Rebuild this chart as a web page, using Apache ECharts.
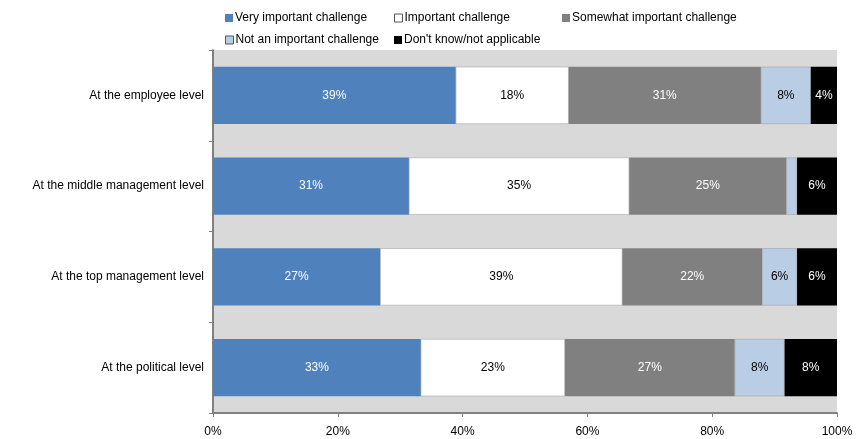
<!DOCTYPE html>
<html><head><meta charset="utf-8">
<script src="https://cdn.jsdelivr.net/npm/echarts@6/dist/echarts.min.js"></script>
<style>html,body{margin:0;padding:0;background:#fff}#c{width:856px;height:439px}</style>
</head><body><div id="c"></div>
<script>
const categories = ['At the employee level','At the middle management level','At the top management level','At the political level'];
const seriesNames = ['Very important challenge','Important challenge','Somewhat important challenge','Not an important challenge',"Don't know/not applicable"];
const veryImportant = [38.9, 31.4, 26.8, 33.3];
const important = [18.1, 35.3, 38.8, 23.1];
const somewhat = [30.8, 25.2, 22.4, 27.2];
const notImportant = [8.0, 1.7, 5.6, 8.0];
const dontKnow = [4.2, 6.4, 6.4, 8.4];
const xTicks = [0, 20, 40, 60, 80, 100];

const colors = ['#4f81bd','#ffffff','#808080','#b9cde5','#000000'];
const labelColors = ['#ffffff','#000000','#ffffff','#000000','#ffffff'];
const values = [veryImportant, important, somewhat, notImportant, dontKnow];
const font = 'Liberation Sans, Arial, sans-serif';

const series = seriesNames.map((n, i) => ({
  name: n, type: 'bar', stack: 'a', barCategoryGap: '37%',
  data: values[i],
  itemStyle: { color: colors[i], borderColor: (i===1||i===3)?'#9a9a9a':colors[i], borderWidth: (i===1||i===3)?0.5:0 },
  label: { show: true, position: 'inside', color: labelColors[i], fontFamily: font, fontSize: 12,
    formatter: p => p.value >= 3 ? Math.round(p.value) + '%' : '' }
}));

const legendPos = [[225,12],[394,12],[562,12],[225,34],[394,34]];
const legends = seriesNames.map((n, i) => ({
  data: [{ name: n, itemStyle: { color: colors[i], borderColor: (i===1||i===3)?'#555':colors[i], borderWidth: (i===1||i===3)?1:0 } }],
  left: legendPos[i][0], top: legendPos[i][1], itemWidth: 8, itemHeight: 8, itemGap: 2,
  icon: 'rect', padding: 0, selectedMode: false,
  textStyle: { fontFamily: font, fontSize: 12, color: '#000', padding: [0,0,0,-3] }
}));

const chart = echarts.init(document.getElementById('c'), null, { renderer: 'canvas' });
chart.setOption({
  animation: false,
  legend: legends,
  grid: { left: 213, right: 19, top: 50, bottom: 26, backgroundColor: '#d9d9d9', show: true, borderWidth: 0 },
  xAxis: { type: 'value', min: 0, max: 100, interval: 20,
    axisLine: { show: true, lineStyle: { color: '#808080', width: 2 } },
    axisTick: { show: true, length: 4, lineStyle: { color: '#808080' } },
    splitLine: { show: false },
    axisLabel: { formatter: v => xTicks.includes(v) ? v + '%' : '', color: '#000', fontFamily: font, fontSize: 12, margin: 13 } },
  yAxis: { type: 'category', data: categories, inverse: true,
    axisLine: { show: true, lineStyle: { color: '#808080', width: 2 } },
    axisTick: { show: true, length: 4, lineStyle: { color: '#808080' } },
    axisLabel: { color: '#000', fontFamily: font, fontSize: 12, margin: 9 } },
  series
});
</script></body></html>
